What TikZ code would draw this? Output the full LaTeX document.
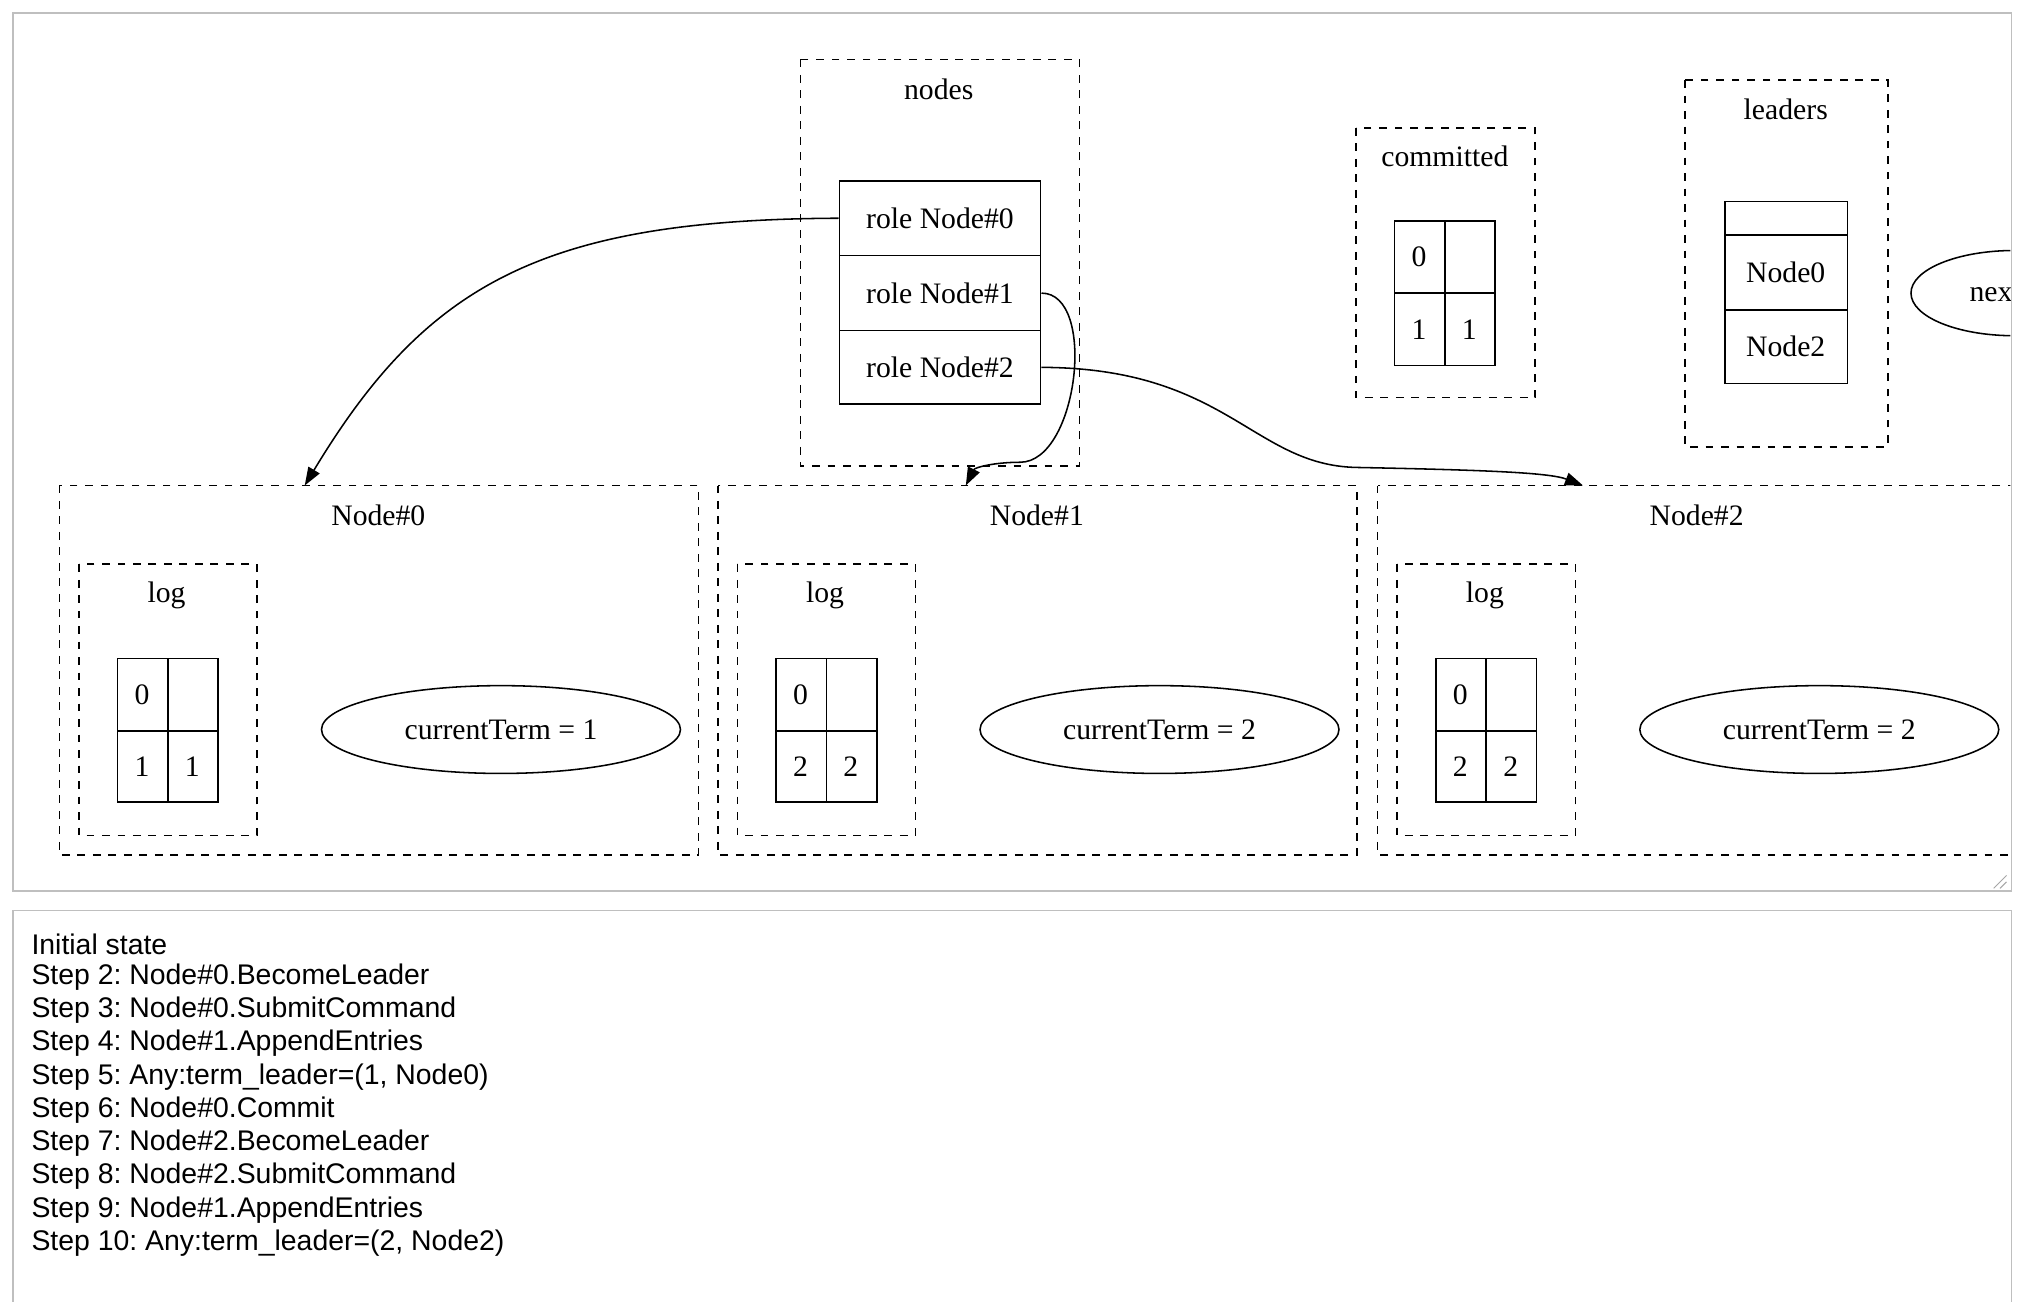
\documentclass[tikz,border=0pt]{standalone}
\usepackage{fontspec}
\setmainfont{Liberation Serif}
\newfontfamily\sansf{Liberation Sans}
\usetikzlibrary{shapes.geometric,arrows.meta}
\frenchspacing
\begin{document}
\begin{tikzpicture}[x=0.5pt,y=-0.5pt,
  lbl/.style={font=\fontsize{11.5}{13}\selectfont,inner sep=0},
  cl/.style={draw,dashed,line width=0.6pt},
  box/.style={draw,line width=0.6pt,inner sep=0,font=\fontsize{11.5}{13}\selectfont},
  ell/.style={draw,ellipse,line width=0.6pt,inner sep=0,font=\fontsize{11.5}{13}\selectfont},
  edge/.style={line width=0.6pt,-{Triangle[length=7pt,width=5pt]}},
  st/.style={font=\sansf\fontsize{11}{12}\selectfont,anchor=west,inner sep=0}]
\useasboundingbox (0,0) rectangle (1566,1008);
\fill[white] (0,0) rectangle (1566,1008);
\draw[gray!50,line width=0.5pt] (10,10) rectangle (1558,690);
\draw[gray!50,line width=0.5pt] (10,705) rectangle (1558,1030);
\draw[gray!70,line width=0.4pt] (1544,688)--(1554,678) (1549,688)--(1554,683);
\begin{scope}
\clip (11,11) rectangle (1557,689);
% nodes cluster
\draw[cl] (620,46) rectangle (836,361);
\node[lbl] (nodesl) at (727,69) {nodes};
\node[box,minimum width=78pt,minimum height=29pt] (r0) at (728,169) {role Node\#0};
\node[box,minimum width=78pt,minimum height=29pt] (r1) at (728,227) {role Node\#1};
\node[box,minimum width=78pt,minimum height=28.5pt] (r2) at (728,284.5) {role Node\#2};
% committed
\draw[cl] (1050,99) rectangle (1189,308);
\node[lbl] at (1119,121) {committed};
\draw[line width=0.6pt] (1080,171) rectangle (1158,283) (1080,227)--(1158,227) (1119,171)--(1119,283);
\node[lbl] at (1099,199) {0};
\node[lbl] at (1099,255) {1};
\node[lbl] at (1138,255) {1};
% leaders
\draw[cl] (1305,62) rectangle (1462,346);
\node[lbl] at (1383,85) {leaders};
\draw[line width=0.6pt] (1336,156) rectangle (1431,297) (1336,182)--(1431,182) (1336,240)--(1431,240);
\node[lbl] at (1383,211) {Node0};
\node[lbl] at (1383,268) {Node2};
\node[ell,minimum width=80pt,minimum height=33pt] (nx) at (1560,227) {};
\node[lbl,anchor=west] (nxt) at (1525,227) {next};
% Node clusters
\foreach \i/\dx/\t in {0/0/1,1/510/2,2/1021/2}{
  \begin{scope}[xshift=\dx*0.5pt]
  \draw[cl] (46,376) rectangle (541,662);
  \node[lbl] at (293,399) {Node\#\i};
  \draw[cl] (61,437) rectangle (199,647);
  \node[lbl] at (129,461) {log};
  \draw[line width=0.6pt] (91,510) rectangle (169,621) (91,566)--(169,566) (130,510)--(130,621);
  \node[lbl] at (110,538) {0};
  \node[lbl] at (110,594) {\t};
  \ifnum\i>0 \node[lbl] at (149,594) {\t};\else\node[lbl] at (149,594) {1};\fi
  \node[ell,minimum width=139pt,minimum height=34pt] (ct\i) at (388,565) {currentTerm = \t};
  \end{scope}}
\coordinate (n0) at (236,376);
\coordinate (n1) at (748,376);
\coordinate (n2) at (1226,376);
\draw[edge] (r0.west) .. controls (420,170) and (330,220) .. (n0);
\draw[edge] (r1.east) .. controls (850,227) and (835,358) .. (790,358) .. controls (770,358) and (755,362) .. (n1);
\draw[edge] (r2.east) .. controls (950,285) and (970,360) .. (1050,362) .. controls (1150,364) and (1200,366) .. (n2);
\end{scope}
% steps
\foreach \s [count=\k from 0] in {Initial state,Step 2: Node\#0.BecomeLeader,Step 3: Node\#0.SubmitCommand,Step 4: Node\#1.AppendEntries,{Step 5: Any:term\_leader=(1, Node0)},Step 6: Node\#0.Commit,Step 7: Node\#2.BecomeLeader,Step 8: Node\#2.SubmitCommand,Step 9: Node\#1.AppendEntries,{Step 10: Any:term\_leader=(2, Node2)}}
  \node[st] (s\k) at (24,731+25.75*\k) {\s};
\end{tikzpicture}
\end{document}
